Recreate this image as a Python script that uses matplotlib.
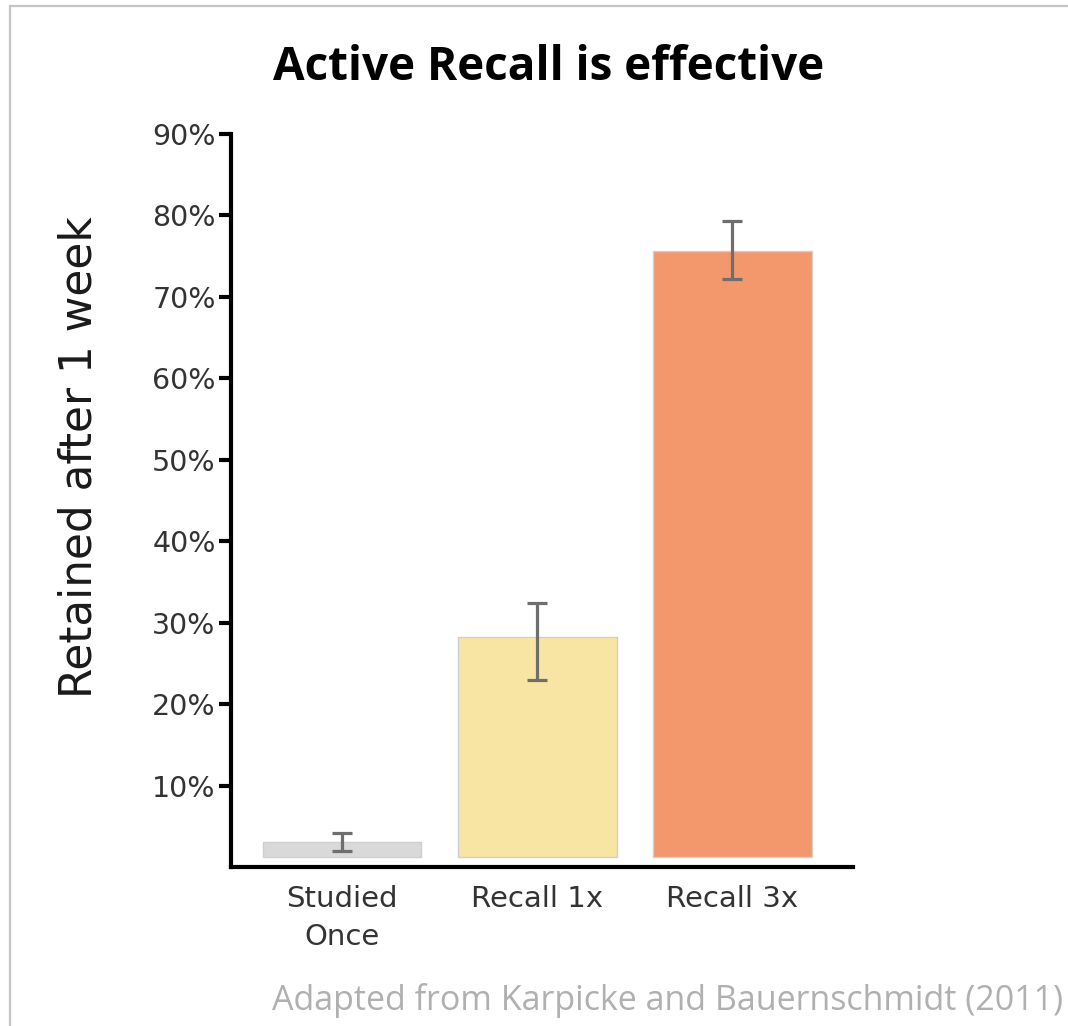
import matplotlib
matplotlib.use("Agg")
import matplotlib.pyplot as plt
from matplotlib.patches import Rectangle
import numpy as np

# -----------------------------
# data
# -----------------------------
conditions = ["Studied\nOnce", "Recall 1x", "Recall 3x"]
retained = [3.1, 28.2, 75.6]          # % retained after 1 week (bar top)
err_low = [2.0, 22.9, 72.2]
err_high = [4.2, 32.4, 79.3]
bar_colors = ["#d9d9d9", "#f9e5a3", "#f3976d"]
yticks = [10, 20, 30, 40, 50, 60, 70, 80, 90]

bar_base = 1.2   # bars sit a little above the axis line in the original

fig = plt.figure(figsize=(10.68, 10.26), dpi=100)
ax = fig.add_axes([0.2163, 0.1550, 0.5824, 0.7144])

x = np.arange(len(conditions))
heights = [v - bar_base for v in retained]
ax.bar(x, heights, bottom=bar_base, width=0.815, color=bar_colors,
       edgecolor="#cfcfcf", linewidth=1, zorder=2)

yerr = [np.array(retained) - np.array(err_low), np.array(err_high) - np.array(retained)]
ax.errorbar(x, retained, yerr=yerr, fmt="none", ecolor="#6e6e6e",
            elinewidth=2.3, capsize=7.5, capthick=2.3, zorder=3)

ax.set_xlim(-0.569, 2.62)
ax.set_ylim(0, 90)
ax.set_yticks(yticks)
ax.set_yticklabels([f"{t}%" for t in yticks])
ax.set_xticks(x)
ax.set_xticklabels(conditions)

for s in ["top", "right"]:
    ax.spines[s].set_visible(False)
for s in ["left", "bottom"]:
    ax.spines[s].set_linewidth(3)
    ax.spines[s].set_color("black")
    ax.spines[s].set_capstyle("projecting")

ax.tick_params(axis="y", length=9, width=3, color="black", labelsize=20.5,
               labelcolor="#333333", pad=2)
ax.tick_params(axis="x", length=0, labelsize=21, labelcolor="#333333", pad=13)
for lab in ax.get_xticklabels() + ax.get_yticklabels():
    lab.set_family("DejaVu Sans")
for lab in ax.get_xticklabels():
    lab.set_linespacing(1.45)

ax.set_ylabel("Retained after 1 week", fontsize=31.5, color="#1a1a1a",
              family="DejaVu Sans", va="center")
ax.yaxis.set_label_coords(-0.245, 0.559)

fig.text(0.514, 0.934, "Active Recall is effective", ha="center", va="center",
         fontsize=33, fontweight="bold", family="Open Sans", color="black")

fig.text(0.995, 0.025, "Adapted from Karpicke and Bauernschmidt (2011)",
         ha="right", va="center", fontsize=24.5, family="Open Sans",
         color="#b0b0b0")

# light grey frame (left + top edges visible)
fig.patches.append(Rectangle((10 / 1068, -0.5), 2.0, 0.5 + 1 - 6 / 1026,
                             transform=fig.transFigure, fill=False,
                             edgecolor="#c4c4c4", linewidth=1.6))

fig.savefig("out.png", dpi=100)
